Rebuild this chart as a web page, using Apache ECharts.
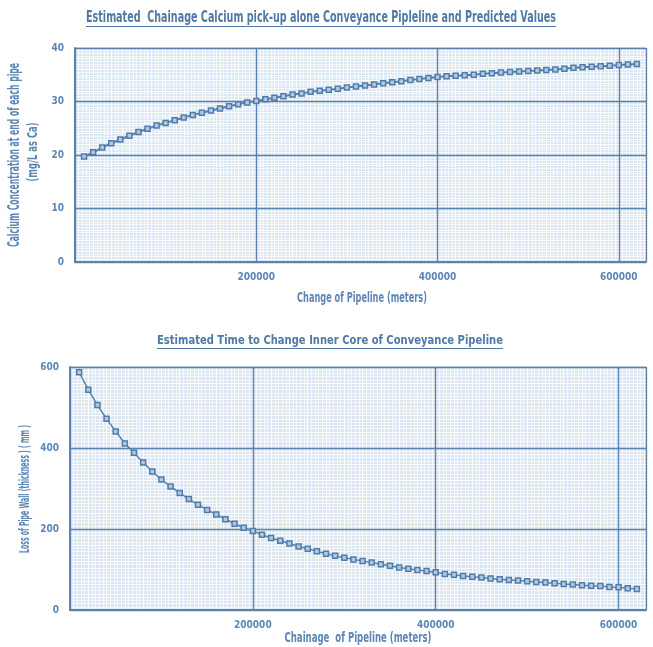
<!DOCTYPE html>
<html>
<head>
<meta charset="utf-8">
<script src="https://cdn.jsdelivr.net/npm/echarts@6/dist/echarts.min.js"></script>
<style>
  html, body { margin: 0; padding: 0; background: #ffffff; }
  #main { width: 653px; height: 647px; }
</style>
</head>
<body>
<div id="main"></div>
<script>
// chainage (m) of each pipe end
const chainage = [
  10000, 20000, 30000, 40000, 50000, 60000, 70000, 80000, 90000, 100000,
  110000, 120000, 130000, 140000, 150000, 160000, 170000, 180000, 190000, 200000,
  210000, 220000, 230000, 240000, 250000, 260000, 270000, 280000, 290000, 300000,
  310000, 320000, 330000, 340000, 350000, 360000, 370000, 380000, 390000, 400000,
  410000, 420000, 430000, 440000, 450000, 460000, 470000, 480000, 490000, 500000,
  510000, 520000, 530000, 540000, 550000, 560000, 570000, 580000, 590000, 600000,
  610000, 620000
];
// calcium at end of each pipe (mg/L as Ca)
const calcium = [
  19.7, 20.5, 21.4, 22.2, 22.9, 23.6, 24.3, 24.9, 25.5, 26.0,
  26.5, 27.0, 27.5, 27.9, 28.3, 28.7, 29.1, 29.5, 29.8, 30.1,
  30.4, 30.7, 31.0, 31.3, 31.5, 31.8, 32.0, 32.2, 32.4, 32.6,
  32.8, 33.0, 33.2, 33.4, 33.6, 33.8, 34.0, 34.2, 34.4, 34.6,
  34.7, 34.8, 34.9, 35.0, 35.2, 35.3, 35.4, 35.5, 35.6, 35.7,
  35.8, 35.9, 36.0, 36.1, 36.3, 36.4, 36.5, 36.6, 36.7, 36.8,
  36.9, 37.0
];
// loss of pipe wall (mm)
const wallLoss = [
  587, 544, 506, 472, 441, 411, 388, 364, 342, 322,
  305, 289, 274, 260, 247, 236, 224, 213, 203, 195,
  186, 178, 171, 164, 157, 151, 145, 139, 134, 129,
  125, 121, 117, 113, 109, 105, 102, 99, 96, 93,
  89, 87, 84, 82, 80, 78, 76, 74, 73, 71,
  69, 68, 66, 64, 63, 61, 60, 59, 57, 56,
  54, 52
];

const topTitle = "Estimated  Chainage Calcium pick-up alone Conveyance Pipleline and Predicted Values";
const bottomTitle = "Estimated Time to Change Inner Core of Conveyance Pipeline";

const FAMILY = '"DejaVu Sans", sans-serif';
const WEIGHT = "bold condensed"; // 窄字体
const TXT = "#5b86b5";
const MAJOR = "#5a82ae";

function fontOf(size) {
  return WEIGHT + " " + size + "px " + FAMILY;
}

// 量文字宽度
function textWidth(str, size) {
  let ctx = document.createElement("canvas").getContext("2d");
  ctx.font = fontOf(size);
  return ctx.measureText(str).width;
}

// 横向压缩到目标宽度的文字
function squeezedText(str, cx, cy, size, targetW, rotation, color) {
  let w = textWidth(str, size);
  return {
    type: "text",
    x: cx,
    y: cy,
    rotation: rotation || 0,
    scaleX: targetW / w,
    z: 10,
    style: {
      text: str,
      fill: color || TXT,
      font: fontOf(size),
      textAlign: "center",
      textVerticalAlign: "middle"
    }
  };
}

function titleGraphic(str, x1, x2, cy, size) {
  let cx = (x1 + x2) / 2;
  return [
    squeezedText(str, cx, cy, size, x2 - x1, 0, "#5079a6"),
    {
      type: "line",
      z: 10,
      shape: { x1: x1, y1: cy + size / 2 + 1, x2: x2, y2: cy + size / 2 + 1 },
      style: { stroke: "#5079a6", lineWidth: 1 }
    }
  ];
}

const labelStyle = { color: TXT, fontFamily: FAMILY, fontWeight: WEIGHT, fontSize: 10 };

function mainX(gridIndex) {
  return {
    type: "value",
    gridIndex: gridIndex,
    min: 0,
    max: 630000,
    interval: 200000,
    z: 2,
    axisLine: { lineStyle: { color: MAJOR, width: 2 } },
    axisTick: { show: false },
    axisLabel: Object.assign({}, labelStyle, {
      margin: 10,
      formatter: v => (v > 0 && v % 200000 === 0 ? String(v) : "")
    }),
    splitLine: { show: true, lineStyle: { color: MAJOR, width: 1.3 } }
  };
}

function mainY(gridIndex, max, interval) {
  return {
    type: "value",
    gridIndex: gridIndex,
    min: 0,
    max: max,
    interval: interval,
    z: 2,
    axisLine: { show: true, lineStyle: { color: MAJOR, width: 2 } },
    axisTick: { show: false },
    axisLabel: Object.assign({}, labelStyle, { margin: 11 }),
    splitLine: { show: true, lineStyle: { color: MAJOR, width: 1.3 } }
  };
}

// 只画白色细网格的辅助轴
function minorAxis(gridIndex, max, interval, split, isX) {
  let a = {
    type: "value",
    gridIndex: gridIndex,
    min: 0,
    max: max,
    interval: interval,
    z: 1,
    axisLine: { show: false },
    axisTick: { show: false },
    axisLabel: { show: false },
    splitLine: { show: true, lineStyle: { color: "rgba(255,255,255,0.95)", width: 1 } },
    minorTick: { show: false, splitNumber: split },
    minorSplitLine: { show: true, lineStyle: { color: "rgba(255,255,255,0.7)", width: 1 } }
  };
  if (isX) a.position = "bottom";
  return a;
}

let chart = echarts.init(document.getElementById("main"));

let option = {
  backgroundColor: "#ffffff",
  animation: false,
  graphic: [].concat(
    titleGraphic(topTitle, 86, 556, 18, 15),
    titleGraphic(bottomTitle, 157, 503, 341, 13),
    [
      squeezedText("Calcium Concentration at end of each pipe", 15, 155, 15, 184, Math.PI / 2),
      squeezedText("(mg/L as Ca)", 33, 152, 14, 59, Math.PI / 2),
      squeezedText("Change of Pipeline (meters)", 362, 298, 14, 130, 0),
      squeezedText("Loss of Pipe Wall (thickness ) ( mm )", 25, 489, 14, 128, Math.PI / 2),
      squeezedText("Chainage  of Pipeline (meters)", 358, 638, 14, 147, 0)
    ]
  ),
  grid: [
    { left: 75, top: 48, right: 7, height: 214, z: 0, show: true, backgroundColor: "#dce6f1", borderColor: "#b3c6dc", borderWidth: 1 },
    { left: 70, top: 367, right: 7, height: 243, z: 0, show: true, backgroundColor: "#dce6f1", borderColor: "#b3c6dc", borderWidth: 1 }
  ],
  xAxis: [
    mainX(0),
    mainX(1),
    minorAxis(0, 630000, 20000, 5, true),
    minorAxis(1, 630000, 20000, 5, true)
  ],
  yAxis: [
    mainY(0, 40, 10),
    mainY(1, 600, 200),
    minorAxis(0, 40, 2, 4, false),
    minorAxis(1, 600, 40, 5, false)
  ],
  series: [
    {
      type: "line",
      xAxisIndex: 0,
      yAxisIndex: 0,
      z: 3,
      data: chainage.map((c, i) => [c, calcium[i]]),
      symbol: "rect",
      symbolSize: 5,
      lineStyle: { color: "#5581b0", width: 2 },
      itemStyle: { color: "#b4c8de", borderColor: "#4f7cab", borderWidth: 1.5 }
    },
    {
      type: "line",
      xAxisIndex: 1,
      yAxisIndex: 1,
      z: 3,
      data: chainage.map((c, i) => [c, wallLoss[i]]),
      symbol: "rect",
      symbolSize: 5,
      lineStyle: { color: "#5581b0", width: 1.5 },
      itemStyle: { color: "#b4c8de", borderColor: "#4f7cab", borderWidth: 1.5 }
    }
  ]
};

chart.setOption(option);
</script>
</body>
</html>
